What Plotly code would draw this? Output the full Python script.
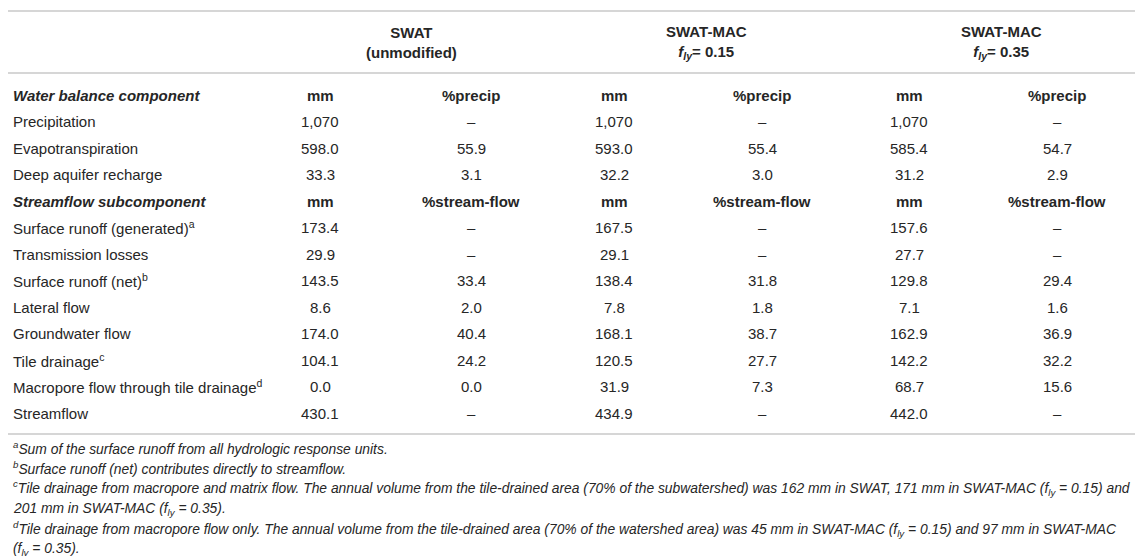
import plotly.graph_objects as go

# table content
groups = ["SWAT<br>(unmodified)",
          "SWAT-MAC<br><i>f<sub>ly</sub></i>= 0.15",
          "SWAT-MAC<br><i>f<sub>ly</sub></i>= 0.35"]

wb_labels = ["Precipitation", "Evapotranspiration", "Deep aquifer recharge"]
sf_labels = ["Surface runoff (generated)<sup>a</sup>", "Transmission losses",
             "Surface runoff (net)<sup>b</sup>", "Lateral flow", "Groundwater flow",
             "Tile drainage<sup>c</sup>", "Macropore flow through tile drainage<sup>d</sup>",
             "Streamflow"]

# water balance (mm, %precip)
swat_mm_wb = [1070, 598.0, 33.3]
swat_pct_wb = [None, 55.9, 3.1]
mac15_mm_wb = [1070, 593.0, 32.2]
mac15_pct_wb = [None, 55.4, 3.0]
mac35_mm_wb = [1070, 585.4, 31.2]
mac35_pct_wb = [None, 54.7, 2.9]

# streamflow subcomponents (mm, %stream-flow)
swat_mm_sf = [173.4, 29.9, 143.5, 8.6, 174.0, 104.1, 0.0, 430.1]
swat_pct_sf = [None, None, 33.4, 2.0, 40.4, 24.2, 0.0, None]
mac15_mm_sf = [167.5, 29.1, 138.4, 7.8, 168.1, 120.5, 31.9, 434.9]
mac15_pct_sf = [None, None, 31.8, 1.8, 38.7, 27.7, 7.3, None]
mac35_mm_sf = [157.6, 27.7, 129.8, 7.1, 162.9, 142.2, 68.7, 442.0]
mac35_pct_sf = [None, None, 29.4, 1.6, 36.9, 32.2, 15.6, None]

footnotes = [
    "<sup>a</sup>Sum of the surface runoff from all hydrologic response units.",
    "<sup>b</sup>Surface runoff (net) contributes directly to streamflow.",
    "<sup>c</sup>Tile drainage from macropore and matrix flow. The annual volume from the tile-drained area "
    "(70% of the subwatershed) was 162 mm in SWAT, 171 mm in SWAT-MAC (f<sub>ly</sub> = 0.15) and",
    "201 mm in SWAT-MAC (f<sub>ly</sub> = 0.35).",
    "<sup>d</sup>Tile drainage from macropore flow only. The annual volume from the tile-drained area "
    "(70% of the watershed area) was 45 mm in SWAT-MAC (f<sub>ly</sub> = 0.15) and 97 mm in SWAT-MAC",
    "(f<sub>ly</sub> = 0.35).",
]


def fmt(v):
    if v is None:
        return "–"
    if v >= 1000:
        return f"{v:,.0f}"
    return f"{v:.1f}"


# build rows: (label, cells, is_section)
cols_wb = [swat_mm_wb, swat_pct_wb, mac15_mm_wb, mac15_pct_wb, mac35_mm_wb, mac35_pct_wb]
cols_sf = [swat_mm_sf, swat_pct_sf, mac15_mm_sf, mac15_pct_sf, mac35_mm_sf, mac35_pct_sf]
rows = [("Water balance component", ["mm", "%precip"] * 3, True)]
for i, lab in enumerate(wb_labels):
    rows.append((lab, [fmt(c[i]) for c in cols_wb], False))
rows.append(("Streamflow subcomponent", ["mm", "%stream-flow"] * 3, True))
for i, lab in enumerate(sf_labels):
    rows.append((lab, [fmt(c[i]) for c in cols_sf], False))

W, H = 1143, 556
col_x = [312, 463, 606, 754, 901, 1049]
group_x = [403, 698, 993]
txt = "#262626"
rule = "#c9c9c9"
font = "Liberation Sans, Arial, sans-serif"

fig = go.Figure()
fig.add_trace(go.Scatter(x=[0, W], y=[0, H], mode="markers",
                         marker=dict(opacity=0), hoverinfo="skip", showlegend=False))

ann = []
for gx, g in zip(group_x, groups):
    ann.append(dict(x=gx, y=34, text="<b>" + g + "</b>", showarrow=False,
                    xanchor="center", yanchor="middle", align="center",
                    font=dict(size=15, color=txt, family=font)))

for r, (lab, cells, sec) in enumerate(rows):
    y = 87 + 26.5 * r
    t = "<b><i>" + lab + "</i></b>" if sec else lab
    ann.append(dict(x=3, y=y, text=t, showarrow=False, xanchor="left", yanchor="middle",
                    font=dict(size=15, color=txt, family=font)))
    for cx, c in zip(col_x, cells):
        ann.append(dict(x=cx, y=y, text="<b>" + c + "</b>" if sec else c, showarrow=False,
                        xanchor="center", yanchor="middle",
                        font=dict(size=15, color=txt, family=font)))

for k, f in enumerate(footnotes):
    ann.append(dict(x=3, y=440 + 20.2 * k, text="<i>" + f + "</i>", showarrow=False,
                    xanchor="left", yanchor="middle",
                    font=dict(size=13.85, color=txt, family=font)))

shapes = []
for yl in [3, 65, 426]:
    shapes.append(dict(type="line", x0=0, x1=1140, y0=yl, y1=yl,
                       line=dict(color=rule, width=1.6)))

fig.update_layout(
    width=W, height=H,
    margin=dict(l=0, r=0, t=0, b=0),
    paper_bgcolor="white", plot_bgcolor="white",
    xaxis=dict(range=[0, W], visible=False, fixedrange=True),
    yaxis=dict(range=[H, 0], visible=False, fixedrange=True),
    annotations=ann, shapes=shapes,
)

fig.write_html("out.html")
